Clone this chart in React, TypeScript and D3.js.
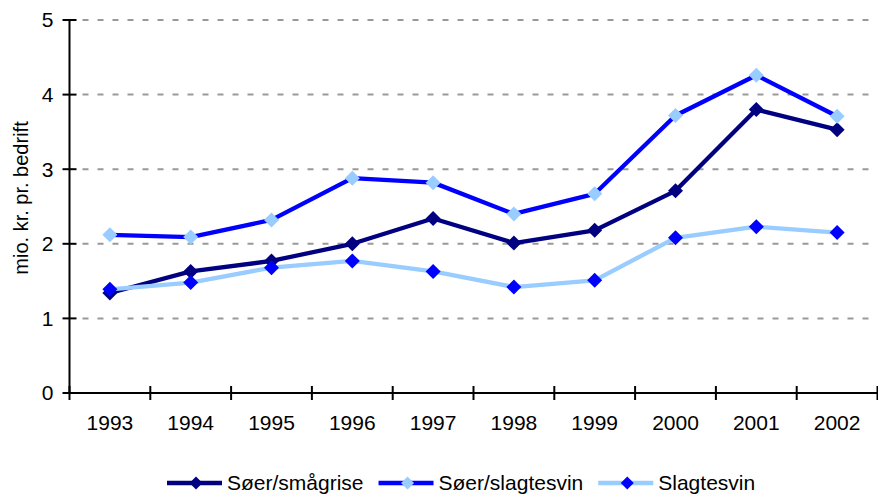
import React, { useEffect, useRef } from 'react';
import * as d3 from 'd3';

const years = ['1993', '1994', '1995', '1996', '1997', '1998', '1999', '2000', '2001', '2002'];
const soerSmaagrise = [1.34, 1.63, 1.77, 2.0, 2.34, 2.01, 2.18, 2.71, 3.8, 3.53];
const soerSlagtesvin = [2.12, 2.09, 2.32, 2.88, 2.82, 2.4, 2.67, 3.72, 4.26, 3.71];
const slagtesvin = [1.39, 1.48, 1.68, 1.77, 1.63, 1.42, 1.51, 2.08, 2.23, 2.15];
const yTicks = [0, 1, 2, 3, 4, 5];

const series = [
  { name: 'Søer/smågrise', values: soerSmaagrise, line: '#000080', marker: '#000080' },
  { name: 'Søer/slagtesvin', values: soerSlagtesvin, line: '#0000FF', marker: '#99CCFF' },
  { name: 'Slagtesvin', values: slagtesvin, line: '#99CCFF', marker: '#0000FF' },
];

const W = 878;
const H = 494;
const FONT = '"Liberation Sans", Arial, sans-serif';

// diamond with half-diagonal r
const diamondPath = (r: number) => `M0,${-r}L${r},0L0,${r}L${-r},0Z`;

function App() {
  const ref = useRef<SVGSVGElement>(null);

  useEffect(() => {
    const svg = d3.select(ref.current);
    svg.selectAll('*').remove();

    const left = 69.5;
    const right = 877.5;
    const top = 20;
    const bottom = 393;

    const x = d3.scaleBand().domain(years).range([left, right]);
    const y = d3.scaleLinear().domain([0, 5]).range([bottom, top]);

    // gridlines
    svg.append('g')
      .selectAll('line')
      .data(yTicks.filter(t => t > 0))
      .enter()
      .append('line')
      .attr('x1', left + 13)
      .attr('x2', right)
      .attr('y1', d => y(d))
      .attr('y2', d => y(d))
      .attr('stroke', '#999999')
      .attr('stroke-width', 2)
      .attr('stroke-dasharray', '6,9');

    // y axis
    svg.append('line')
      .attr('x1', left).attr('x2', left)
      .attr('y1', top).attr('y2', bottom)
      .attr('stroke', '#000').attr('stroke-width', 2);
    svg.append('g')
      .selectAll('line')
      .data(yTicks)
      .enter()
      .append('line')
      .attr('x1', left - 7).attr('x2', left + 7)
      .attr('y1', d => y(d)).attr('y2', d => y(d))
      .attr('stroke', '#000').attr('stroke-width', 2);
    svg.append('g')
      .selectAll('text')
      .data(yTicks)
      .enter()
      .append('text')
      .attr('x', left - 16)
      .attr('y', d => y(d))
      .attr('dy', '0.35em')
      .attr('text-anchor', 'end')
      .style('font-family', FONT)
      .style('font-size', '21px')
      .text(d => d);

    // x axis
    svg.append('line')
      .attr('x1', left).attr('x2', right)
      .attr('y1', bottom).attr('y2', bottom)
      .attr('stroke', '#000').attr('stroke-width', 2);
    const edges = years.map(d => x(d)).concat([right]);
    svg.append('g')
      .selectAll('line')
      .data(edges)
      .enter()
      .append('line')
      .attr('x1', d => d).attr('x2', d => d)
      .attr('y1', bottom - 7).attr('y2', bottom + 7)
      .attr('stroke', '#000').attr('stroke-width', 2);
    svg.append('g')
      .selectAll('text')
      .data(years)
      .enter()
      .append('text')
      .attr('x', d => x(d) + x.bandwidth() / 2)
      .attr('y', 423)
      .attr('dy', '0.35em')
      .attr('text-anchor', 'middle')
      .style('font-family', FONT)
      .style('font-size', '21px')
      .text(d => d);

    // y label
    svg.append('text')
      .attr('transform', 'translate(21,198) rotate(-90)')
      .attr('text-anchor', 'middle')
      .attr('dy', '0.35em')
      .style('font-family', FONT)
      .style('font-size', '20px')
      .text('mio. kr. pr. bedrift');

    const line = d3.line<number>()
      .x((d, i) => x(years[i]) + x.bandwidth() / 2)
      .y(d => y(d));

    series.forEach(s => {
      svg.append('path')
        .attr('d', line(s.values))
        .attr('fill', 'none')
        .attr('stroke', s.line)
        .attr('stroke-width', 4.3)
        .attr('stroke-linejoin', 'round');
    });
    series.forEach(s => {
      svg.append('g')
        .selectAll('path')
        .data(s.values)
        .enter()
        .append('path')
        .attr('d', diamondPath(7.5))
        .attr('transform', (d, i) => `translate(${x(years[i]) + x.bandwidth() / 2},${y(d)})`)
        .attr('fill', s.marker);
    });

    // legend
    const legend = svg.append('g');
    let lx = 167;
    const ly = 483;
    series.forEach(s => {
      legend.append('line')
        .attr('x1', lx).attr('x2', lx + 55)
        .attr('y1', ly).attr('y2', ly)
        .attr('stroke', s.line).attr('stroke-width', 4.3);
      legend.append('path')
        .attr('d', diamondPath(6.5))
        .attr('transform', `translate(${lx + 29},${ly})`)
        .attr('fill', s.marker);
      const t = legend.append('text')
        .attr('x', lx + 60)
        .attr('y', ly)
        .attr('dy', '0.35em')
        .style('font-family', FONT)
        .style('font-size', '21px')
        .text(s.name);
      const w = (t.node() as SVGTextElement).getComputedTextLength();
      lx = lx + 60 + w + 15;
    });
  }, []);

  return (
    <div style={{ position: 'absolute', left: 0, top: 0 }}>
      <svg ref={ref} width={W} height={H} style={{ display: 'block', background: '#fff' }} />
    </div>
  );
}

export default App;
